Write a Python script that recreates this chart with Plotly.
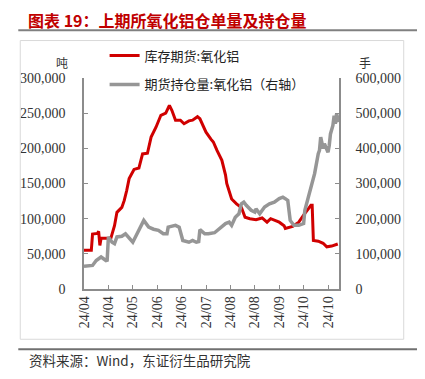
import plotly.graph_objects as go

# ---------------- data ----------------
red_dates = ["2024-04-10","2024-04-16","2024-04-17","2024-04-21","2024-04-22","2024-04-23","2024-04-24",
             "2024-05-02","2024-05-05","2024-05-07","2024-05-11","2024-05-13","2024-05-15","2024-05-17",
             "2024-05-21","2024-05-25","2024-05-28","2024-06-01","2024-06-04","2024-06-08","2024-06-12",
             "2024-06-16","2024-06-19","2024-06-21","2024-06-24","2024-06-28","2024-07-01","2024-07-05",
             "2024-07-08","2024-07-12","2024-07-14","2024-07-19","2024-07-23","2024-07-25","2024-07-28",
             "2024-08-01","2024-08-04","2024-08-05","2024-08-09","2024-08-13","2024-08-17","2024-08-20",
             "2024-08-24","2024-08-29","2024-09-03","2024-09-07","2024-09-10","2024-09-17","2024-09-21",
             "2024-09-22","2024-09-28","2024-10-03","2024-10-07","2024-10-13","2024-10-14","2024-10-15",
             "2024-10-19","2024-10-23","2024-10-26","2024-10-30","2024-11-04"]
red_values = [55000,55000,78000,79000,82000,62000,72000,
              72000,90000,109000,116000,126000,140000,157000,
              170000,172000,192000,193000,216000,230000,247000,
              250000,261000,254000,240000,240000,235000,239000,
              240000,245000,242000,223000,213000,209000,197000,
              183000,162000,150000,128000,121000,116000,102000,
              100000,98500,101000,95000,100000,95000,90000,
              86000,89000,95000,105000,119000,119000,69000,
              68000,65000,60000,61000,64000]

gray_dates = ["2024-04-10","2024-04-17","2024-04-20","2024-04-23","2024-04-24","2024-04-28","2024-04-29",
              "2024-04-30","2024-05-03","2024-05-05","2024-05-07","2024-05-11","2024-05-14","2024-05-20",
              "2024-05-25","2024-05-27","2024-05-29","2024-06-02","2024-06-06","2024-06-10","2024-06-14",
              "2024-06-17","2024-06-18","2024-06-24","2024-06-27","2024-06-30","2024-07-05","2024-07-08",
              "2024-07-11","2024-07-13","2024-07-14","2024-07-18","2024-07-21","2024-07-26","2024-07-30",
              "2024-08-01","2024-08-04","2024-08-07","2024-08-09","2024-08-12","2024-08-15","2024-08-17",
              "2024-08-19","2024-08-21","2024-08-25","2024-08-28","2024-08-29","2024-09-01","2024-09-05",
              "2024-09-09","2024-09-13","2024-09-17","2024-09-20","2024-09-22","2024-09-24","2024-09-26",
              "2024-09-29","2024-10-03","2024-10-07","2024-10-08","2024-10-11","2024-10-14","2024-10-16",
              "2024-10-19","2024-10-20","2024-10-21","2024-10-23","2024-10-24","2024-10-27","2024-10-28",
              "2024-10-29","2024-10-31","2024-11-01","2024-11-02","2024-11-03","2024-11-05"]
gray_values = [65000,67000,81000,88000,91000,81000,82000,
               148000,133000,129000,148000,150000,157000,133000,
               167000,176000,195000,176000,170000,167000,157000,
               157000,176000,181000,176000,138000,133000,138000,
               133000,135000,169000,157000,157000,160000,171000,
               176000,186000,190000,181000,204000,214000,242000,
               247000,238000,224000,219000,228000,214000,233000,
               242000,247000,257000,261000,257000,252000,195000,
               181000,181000,186000,224000,261000,299000,328000,
               385000,394000,432000,399000,413000,389000,408000,
               441000,465000,493000,470000,498000,475000]

tick_dates = ["2024-04-10","2024-04-30","2024-05-20","2024-06-09","2024-06-29","2024-07-19",
              "2024-08-08","2024-08-28","2024-09-17","2024-10-07","2024-10-27"]
tick_labels = ["24/04","24/04","24/05","24/06","24/06","24/07","24/08","24/08","24/09","24/10","24/10"]

left_ticks = [0, 50000, 100000, 150000, 200000, 250000, 300000]
right_ticks = [0, 100000, 200000, 300000, 400000, 500000, 600000]

name_red = "库存期货:氧化铝"
name_gray = "期货持仓量:氧化铝（右轴）"
title_text = "图表 19：上期所氧化铝仓单量及持仓量"
source_text = "资料来源：Wind，东证衍生品研究院"

# ---------------- layout geometry ----------------
# the page body has an 8px margin, so the figure is drawn 8px smaller
OFF = 8
W, H = 425 - OFF, 379 - OFF
PL, PR, PT, PB = 79, 339, 77.5, 288.7   # plot area in reference-image pixels


def px(x):
    return (x - PL) / (PR - PL)


def py(y):
    return (PB - y) / (PB - PT)


CJK = "Noto Sans CJK SC"
NUM = "Liberation Serif"
AX = "#8c8c8c"

fig = go.Figure()
fig.add_trace(go.Scatter(x=red_dates, y=red_values, mode="lines", name=name_red,
                         line=dict(color="#D00000", width=3), legendgroup="a", yaxis="y"))
fig.add_trace(go.Scatter(x=gray_dates, y=gray_values, mode="lines", name=name_gray,
                         line=dict(color="#969696", width=3.5), legendgroup="b", yaxis="y2"))

fig.update_layout(
    width=W, height=H,
    margin=dict(l=PL - OFF, r=425 - PR, t=PT - OFF, b=379 - PB, pad=0),
    paper_bgcolor="white", plot_bgcolor="white",
    showlegend=True,
    legend=dict(x=px(100), y=py(40), xanchor="left", yanchor="top",
                font=dict(family=CJK, size=13, color="#222"),
                bgcolor="rgba(0,0,0,0)", tracegroupgap=9, itemwidth=30),
    xaxis=dict(type="date", range=["2024-04-10", "2024-11-05"],
               tickmode="array", tickvals=tick_dates, ticktext=tick_labels,
               tickangle=-90, ticks="inside", ticklen=4, tickcolor=AX,
               showline=True, linecolor=AX, linewidth=1.5, showgrid=False, zeroline=False,
               tickfont=dict(family=NUM, size=14, color="#333")),
    yaxis=dict(range=[0, 300000], tickvals=left_ticks, tickformat=",d",
               ticks="inside", ticklen=4, tickcolor=AX,
               showline=True, linecolor=AX, linewidth=1.5, showgrid=False, zeroline=False,
               tickfont=dict(family=NUM, size=14, color="#333"), ticklabelstandoff=14),
    yaxis2=dict(range=[0, 600000], tickvals=right_ticks, tickformat=",d", overlaying="y", side="right",
                ticks="inside", ticklen=4, tickcolor=AX,
                showline=True, linecolor=AX, linewidth=1.5, showgrid=False, zeroline=False,
                tickfont=dict(family=NUM, size=14, color="#333"), ticklabelstandoff=12),
)

shapes = [
    dict(type="line", xref="paper", yref="paper", x0=px(12), x1=px(420), y0=py(29.7), y1=py(29.7),
         line=dict(color="#808080", width=2)),
    dict(type="rect", xref="paper", yref="paper", x0=px(14), x1=px(405), y0=py(40), y1=py(339),
         line=dict(color="#d9d9d9", width=1)),
    dict(type="line", xref="paper", yref="paper", x0=px(12), x1=px(420), y0=py(349), y1=py(349),
         line=dict(color="#707070", width=2)),
]
fig.update_layout(shapes=shapes)

annotations = [
    dict(text=title_text, x=px(21), y=py(19), xref="paper", yref="paper", xanchor="left", yanchor="middle",
         showarrow=False, borderpad=0, font=dict(family=CJK, size=16, color="#C00000", weight="bold")),
    dict(text=source_text, x=px(21), y=py(360), xref="paper", yref="paper", xanchor="left", yanchor="middle",
         showarrow=False, font=dict(family=CJK, size=13.5, color="#333")),
    dict(text="吨", x=px(57), y=py(61.5), xref="paper", yref="paper", xanchor="center", yanchor="middle",
         showarrow=False, borderpad=0, font=dict(family=CJK, size=12, color="#333")),
    dict(text="手", x=px(365), y=py(62), xref="paper", yref="paper", xanchor="center", yanchor="middle",
         showarrow=False, borderpad=0, font=dict(family=CJK, size=12, color="#333")),
]
fig.update_layout(annotations=annotations)

fig.write_html("out.html")
